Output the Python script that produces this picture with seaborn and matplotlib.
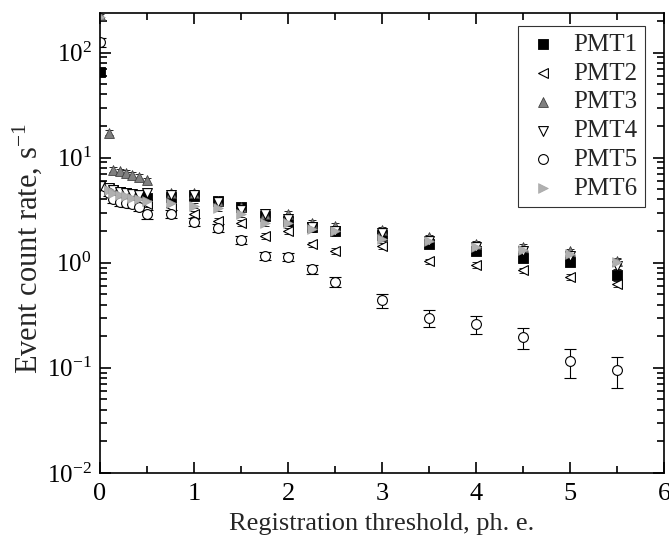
import numpy as np
import pandas as pd
import matplotlib
matplotlib.use("Agg")
import matplotlib.pyplot as plt
import matplotlib.font_manager as fm
import seaborn as sns
from matplotlib.ticker import LogLocator, FixedLocator, NullFormatter

x_lo = [0.0, 0.1, 0.14, 0.21, 0.28, 0.34, 0.41, 0.5]
x_hi = [0.75, 1.0, 1.25, 1.5, 1.75, 2.0, 2.25, 2.5, 3.0, 3.5, 4.0, 4.5, 5.0, 5.5]

pmt1 = [66, 5.0, 4.9, 4.7, 4.6, 4.4, 4.3, 4.1,
        4.2, 4.3, 3.9, 3.4, 2.8, 2.5, 2.2, 2.0, 1.85, 1.5, 1.3, 1.1, 1.02, 0.76]
pmt2 = [5.2, 4.6, 4.4, 4.2, 4.0, 3.9, 3.7, 3.6,
        3.4, 2.9, 2.5, 2.4, 1.8, 2.0, 1.5, 1.3, 1.45, 1.03, 0.95, 0.85, 0.73, 0.63]
pmt3 = [230, 17.3, 7.7, 7.4, 7.2, 6.9, 6.6, 6.1,
        4.6, 4.6, 3.9, 3.4, 2.9, 2.9, 2.4, 2.25, 2.05, 1.75, 1.52, 1.42, 1.28, 1.05]
pmt4 = [5.4, 5.1, 4.9, 4.7, 4.6, 4.5, 4.4, 4.6,
        4.4, 4.4, 3.8, 3.2, 2.9, 2.6, 2.2, 2.0, 1.9, 1.6, 1.4, 1.3, 1.15, 0.93]
pmt5 = [125, 4.6, 4.0, 3.8, 3.7, 3.6, 3.4, 2.9,
        2.9, 2.45, 2.15, 1.65, 1.16, 1.13, 0.87, 0.66, 0.44, 0.30, 0.26, 0.195, 0.115, 0.096]
pmt6 = [220, 4.9, 4.6, 4.4, 4.3, 4.1, 4.0, 3.9,
        3.7, 3.5, 3.3, 2.9, 2.4, 2.4, 2.1, 2.0, 1.7, 1.6, 1.42, 1.32, 1.2, 1.02]
pmt5_err = [12, 0.3, 0.3, 0.3, 0.3, 0.3, 0.3, 0.3,
            0.25, 0.2, 0.2, 0.15, 0.1, 0.1, 0.08, 0.07, 0.065, 0.055, 0.05, 0.045, 0.035, 0.032]

labels = ["PMT1", "PMT2", "PMT3", "PMT4", "PMT5", "PMT6"]
series = [pmt1, pmt2, pmt3, pmt4, pmt5, pmt6]
x_all = x_lo + x_hi

rows = []
for lab, vals in zip(labels, series):
    for xv, yv in zip(x_all, vals):
        rows.append({"threshold": xv, "rate": yv, "pmt": lab})
df = pd.DataFrame(rows)

sns.set_theme(style="ticks")

serif_name = "Liberation Serif"
for f in fm.findSystemFonts():
    if f.endswith("LiberationSerif-Regular.ttf"):
        fm.fontManager.addfont(f)
        serif_name = fm.FontProperties(fname=f).get_name()
        break
plt.rcParams["font.family"] = [serif_name, "DejaVu Serif"]
plt.rcParams["mathtext.fontset"] = "custom"
plt.rcParams["mathtext.rm"] = serif_name
plt.rcParams["mathtext.it"] = serif_name + ":italic"
plt.rcParams["mathtext.bf"] = serif_name + ":bold"
plt.rcParams["axes.unicode_minus"] = False

styles = {
    "PMT1": dict(marker="s", fc="black", ec="black", lw=0.6),
    "PMT2": dict(marker="<", fc="white", ec="black", lw=0.8),
    "PMT3": dict(marker="^", fc="#808080", ec="#404040", lw=0.6),
    "PMT4": dict(marker="v", fc="white", ec="black", lw=0.8),
    "PMT5": dict(marker="o", fc="white", ec="black", lw=0.8),
    "PMT6": dict(marker=">", fc="#b0b0b0", ec="#a0a0a0", lw=0.4),
}

fig = plt.figure(figsize=(6.69, 5.48), dpi=100)
ax = fig.add_axes([0.1495, 0.137, 0.843, 0.84])

for lab in labels:
    sub = df[df["pmt"] == lab]
    st = styles[lab]
    if lab == "PMT5":
        ax.errorbar(sub["threshold"], sub["rate"], yerr=pmt5_err, fmt="none",
                    ecolor="black", elinewidth=0.8, capsize=4, capthick=0.8, zorder=1)
    else:
        err = sub["rate"].values * 0.06
        ax.errorbar(sub["threshold"], sub["rate"], yerr=err, fmt="none",
                    ecolor="black", elinewidth=0.6, capsize=3, capthick=0.6, zorder=1)
    sns.scatterplot(data=sub, x="threshold", y="rate", ax=ax, marker=st["marker"],
                    color=st["fc"], edgecolor=st["ec"], linewidth=st["lw"], s=50,
                    label=lab, zorder=2)

ax.set_yscale("log")
ax.set_xlim(0, 6)
ax.set_ylim(0.01, 240)
ax.xaxis.set_major_locator(FixedLocator([0, 1, 2, 3, 4, 5, 6]))
ax.xaxis.set_minor_locator(FixedLocator([0.5, 1.5, 2.5, 3.5, 4.5, 5.5]))
ax.yaxis.set_major_locator(FixedLocator([0.01, 0.1, 1, 10, 100]))
ax.set_yticklabels([r"$10^{-2}$", r"$10^{-1}$", r"$10^{0}$", r"$10^{1}$", r"$10^{2}$"])
ax.yaxis.set_minor_locator(LogLocator(base=10, subs=np.arange(2, 10)))
ax.yaxis.set_minor_formatter(NullFormatter())
ax.tick_params(which="both", direction="in", top=True, right=True, labelsize=19,
               width=1.2, colors="black")
ax.tick_params(axis="y", labelsize=18, pad=6)
ax.tick_params(which="major", length=8)
ax.tick_params(which="minor", length=5)
ax.tick_params(axis="x", pad=7)
for sp in ax.spines.values():
    sp.set_linewidth(1.2)
    sp.set_color("black")

ax.set_xlabel("Registration threshold, ph. e.", fontsize=19, labelpad=6)
ax.set_ylabel(r"Event count rate, s$^{-1}$", fontsize=22)
ax.yaxis.set_label_coords(-0.1, 0.487)

leg = ax.legend(loc="upper right", bbox_to_anchor=(0.966, 0.971), borderaxespad=0,
                fontsize=18, frameon=True, fancybox=False,
                edgecolor="black", handletextpad=0.5,
                labelspacing=0.25, markerscale=1.0, handlelength=1.4,
                borderpad=0.3)
leg.get_frame().set_linewidth(0.8)

fig.savefig("out.png", dpi=100)
